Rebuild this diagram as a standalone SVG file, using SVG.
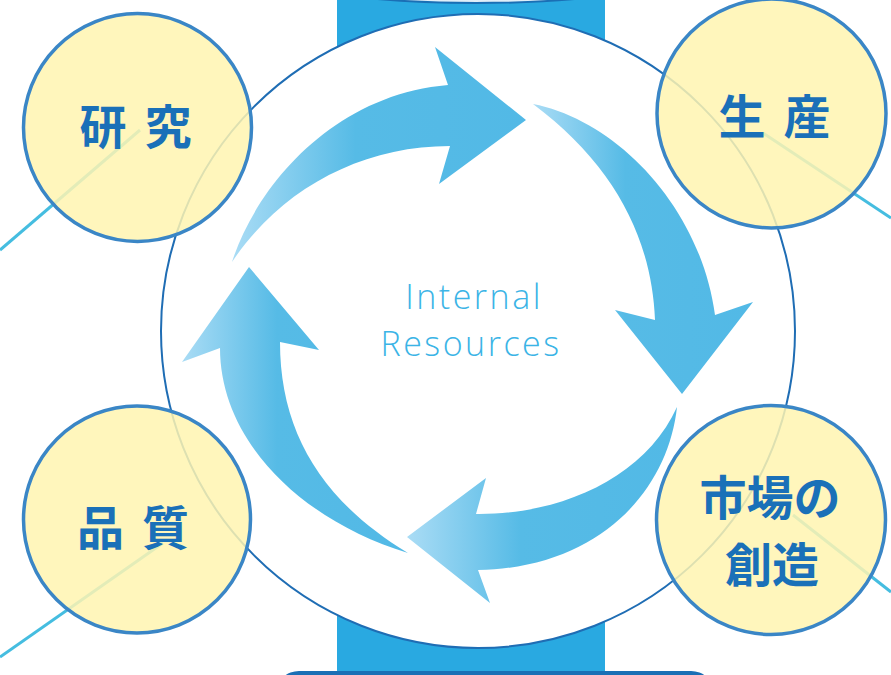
<svg xmlns="http://www.w3.org/2000/svg" width="891" height="675" viewBox="0 0 891 675">
  <defs>
    <linearGradient id="ag" x1="0" y1="0" x2="1" y2="0">
      <stop offset="0" stop-color="#aadcf5"/>
      <stop offset="0.42" stop-color="#56bbe6"/>
      <stop offset="1" stop-color="#52b9e6"/>
    </linearGradient>
    <linearGradient id="topg" x1="0" y1="0" x2="0" y2="1">
      <stop offset="0" stop-color="#ffffff"/>
      <stop offset="1" stop-color="#dfeef8"/>
    </linearGradient>
    <style>
      .arrow { fill: url(#ag); }
      .link { stroke: #45bde0; stroke-width: 3; fill: none; }
      .bubble { fill: #fff5b0; fill-opacity: 0.85; stroke: #3a86c6; stroke-width: 3.5; }
      .jp { font-family: "Noto Sans CJK JP", "Noto Sans", sans-serif; font-weight: 700; font-size: 47px; fill: #1a70b8; text-anchor: middle; }
      .en { font-family: "Open Sans", "Noto Sans", sans-serif; font-weight: 300; font-size: 34px; fill: #3bb4e6; text-anchor: middle; letter-spacing: 2.5px; }
    </style>
  </defs>
  <rect width="891" height="675" fill="#ffffff"/>

  <!-- background band -->
  <rect x="337" y="0" width="268" height="675" fill="#29a9e1"/>
  <ellipse cx="476" cy="-40" rx="230" ry="43" fill="url(#topg)" stroke="#1a6fb5" stroke-width="2"/>
  <rect x="277" y="671" width="436" height="40" rx="22" fill="#1a6fb5"/>

  <!-- central circle -->
  <circle cx="478" cy="331" r="317" fill="#ffffff" stroke="#1f6db4" stroke-width="2"/>

  <!-- connectors -->
  <g id="connectors">
    <line class="link" x1="0" y1="250" x2="140" y2="130"/>
    <line class="link" x1="891" y1="218" x2="763" y2="133"/>
    <line class="link" x1="0" y1="657" x2="163" y2="543"/>
    <line class="link" x1="891" y1="592" x2="793" y2="515"/>
  </g>

  <!-- cycle arrows -->
  <g id="cycle">
    <path class="arrow" d="M232,262 C255,190 330,95 448,85 L435,47 L526,120 L439,184 L450,146 C360,146 280,190 232,262 Z"/>
    <path class="arrow" d="M533,104 C615,120 700,205 715,315 L753,302 L682,394 L615,310 L655,320 C652,240 615,165 533,104 Z"/>
    <path class="arrow" d="M677,407 C668,490 600,568 478,570 L490,603 L407,537 L486,478 L476,514 C560,515 645,478 677,407 Z"/>
    <path class="arrow" d="M408,553 C300,520 220,440 220,348 L182,362 L249,267 L319,350 L280,342 C280,430 320,500 408,553 Z"/>
  </g>

  <g id="center-label">
    <text class="en" x="474" y="309">Internal</text>
    <text class="en" x="471" y="356">Resources</text>
  </g>

  <g id="node-kenkyu">
    <circle class="bubble" cx="137.5" cy="127.5" r="114"/>
    <text class="jp" x="144.5" y="144" letter-spacing="18">研究</text>
  </g>
  <g id="node-seisan">
    <circle class="bubble" cx="771.5" cy="113.5" r="114.5"/>
    <text class="jp" x="783.5" y="134" letter-spacing="18">生産</text>
  </g>
  <g id="node-hinshitsu">
    <circle class="bubble" cx="137" cy="519.5" r="113.5"/>
    <text class="jp" x="142" y="545" letter-spacing="18">品質</text>
  </g>
  <g id="node-shijo">
    <circle class="bubble" cx="771" cy="520" r="114.5"/>
    <text class="jp" x="770" y="515">市場の</text>
    <text class="jp" x="772" y="582">創造</text>
  </g>
</svg>
